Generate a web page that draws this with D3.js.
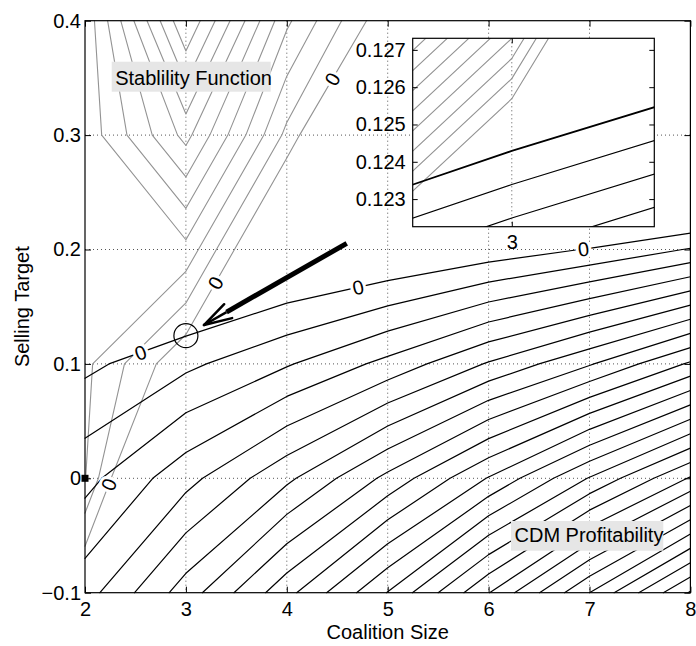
<!DOCTYPE html>
<html>
<head>
<meta charset="utf-8">
<script src="https://cdn.jsdelivr.net/npm/d3@7"></script>
<style>
  body { margin: 0; background: #fff; }
  svg text { font-family: "Liberation Sans", Arial, Helvetica, sans-serif; fill: #000; }
</style>
</head>
<body>
<svg id="chart" width="696" height="646"></svg>
<script>
// Sampling grid: coalition sizes (columns) and selling targets (rows)
const coalitionSizes = [2, 3, 4, 5, 6, 7, 8];
const sellingTargets = [-0.1, 0, 0.1, 0.2, 0.3, 0.4];

// CDM profitability on the grid, one row per selling target (bottom to top)
const profitRows = [
  [3.57, 6.48, 9.67, 13.04, 16.96, 21.0, 25.1],
  [1.67, 3.65, 5.77, 8.27, 11.07, 14.07, 17.1],
  [-0.24, 0.77, 1.9, 3.3, 5.1, 6.9, 9.15],
  [-2.1, -2.4, -1.68, -1.23, -0.63, 0.07, 1.08],
  [-4.0, -5.5, -5.2, -5.6, -6.2, -6.7, -6.5],
  [-6.0, -8.6, -8.7, -10.0, -11.8, -13.5, -14.1]
];

// Stability function on the same grid
const stabilityRows = [
  [-1.4, -9, -14, -18, -22, -26, -30],
  [2.05, -5.85, -10, -14, -18, -22, -26],
  [2.24, -0.93, -6, -10, -14, -18, -22],
  [2.3, 2.69, -2.9, -7, -11, -15, -19],
  [2.34, 6.33, 0.725, -5, -9, -13, -17],
  [2.28, 9.96, 3.2, -0.85, -5, -9, -13]
];

// Contour levels
const profitLevels = [0, 1, 2, 3, 4, 5, 6, 7, 8, 9, 10, 11, 12, 13, 14, 15, 16, 17, 18, 19, 20, 21, 22, 23, 24, 25];
const stabilityLevels = [0, 1, 2, 3, 4, 5, 6, 7, 8, 9];
const insetProfitLevels = [0, 0.0285, 0.057, 0.0855, 0.114];
const insetStabilityLevels = [0, 0.0195, 0.039, 0.0585, 0.078, 0.0975, 0.117, 0.1365, 0.156, 0.1755, 0.195];

// Ticks
const xTicks = [2, 3, 4, 5, 6, 7, 8];
const yTicks = [-0.1, 0, 0.1, 0.2, 0.3, 0.4];
const insetXTicks = [3];
const insetYTicks = [0.123, 0.124, 0.125, 0.126, 0.127];

// Where the "0" contour labels sit (approximate, snapped onto the contour)
const profitZeroLabels = [[2.55, 0.11], [4.71, 0.166], [6.94, 0.2]];
const stabilityZeroLabels = [[2.28, -0.007], [3.29, 0.171], [4.45, 0.349]];

// Annotations
const arrowStart = [4.594, 0.2054];
const arrowTip = [3.179, 0.134];
const circleCenter = [3, 0.1247];
const squareMarker = [2, 0];
const insetXDomain = [2.9717, 3.0407];
const insetYDomain = [0.12226, 0.12731];

const svg = d3.select('#chart');
const plot = { left: 85, right: 690.4, top: 20.7, bottom: 592.7 };
const x = d3.scaleLinear().domain([2, 8]).range([plot.left, plot.right]);
const y = d3.scaleLinear().domain([-0.1, 0.4]).range([plot.bottom, plot.top]);

// Marching squares returning straight line segments for one level
function isoSegments(rows, level) {
  const xs = coalitionSizes, ys = sellingTargets, segs = [];
  for (let j = 0; j < ys.length - 1; j++) {
    for (let i = 0; i < xs.length - 1; i++) {
      const z = [rows[j][i], rows[j][i + 1], rows[j + 1][i + 1], rows[j + 1][i]];
      const p = [[xs[i], ys[j]], [xs[i + 1], ys[j]], [xs[i + 1], ys[j + 1]], [xs[i], ys[j + 1]]];
      const pts = [];
      for (let e = 0; e < 4; e++) {
        const a = z[e] - level, b = z[(e + 1) % 4] - level;
        if ((a < 0) !== (b < 0)) {
          const t = a / (a - b);
          const q0 = p[e], q1 = p[(e + 1) % 4];
          pts.push({ x: q0[0] + t * (q1[0] - q0[0]), y: q0[1] + t * (q1[1] - q0[1]) });
        } else pts.push(null);
      }
      const hit = pts.filter(d => d);
      if (hit.length === 2) segs.push(hit);
      else if (hit.length === 4) {
        const c = (z[0] + z[1] + z[2] + z[3]) / 4 - level;
        if ((c < 0) === (z[0] - level < 0)) { segs.push([pts[0], pts[1]]); segs.push([pts[2], pts[3]]); }
        else { segs.push([pts[3], pts[0]]); segs.push([pts[1], pts[2]]); }
      }
    }
  }
  return segs;
}

function segPath(segs, sx, sy) {
  return segs.map(s => `M${sx(s[0].x)},${sy(s[0].y)}L${sx(s[1].x)},${sy(s[1].y)}`).join('');
}

function snapLabel(segs, anchor, sx, sy) {
  const ax = sx(anchor[0]), ay = sy(anchor[1]);
  let best = null;
  segs.forEach(s => {
    const x1 = sx(s[0].x), y1 = sy(s[0].y), x2 = sx(s[1].x), y2 = sy(s[1].y);
    const dx = x2 - x1, dy = y2 - y1, L2 = dx * dx + dy * dy;
    let t = L2 ? ((ax - x1) * dx + (ay - y1) * dy) / L2 : 0;
    t = Math.max(0, Math.min(1, t));
    const px = x1 + t * dx, py = y1 + t * dy;
    const d = (px - ax) ** 2 + (py - ay) ** 2;
    if (!best || d < best.d) best = { d, px, py, ang: Math.atan2(dy, dx) * 180 / Math.PI };
  });
  let a = best.ang;
  if (a > 90) a -= 180;
  if (a < -90) a += 180;
  return { px: best.px, py: best.py, ang: a };
}

// Grid lines
const grid = svg.append('g').attr('stroke', '#555').attr('stroke-width', 1).attr('stroke-dasharray', '1,3');
xTicks.slice(1, -1).forEach(v => grid.append('line').attr('x1', x(v)).attr('x2', x(v)).attr('y1', plot.top).attr('y2', plot.bottom));
yTicks.slice(1, -1).forEach(v => grid.append('line').attr('y1', y(v)).attr('y2', y(v)).attr('x1', plot.left).attr('x2', plot.right));

// Contours
const contourLayer = svg.append('g').attr('fill', 'none').attr('stroke-linecap', 'round');
stabilityLevels.forEach(lv => {
  contourLayer.append('path').attr('d', segPath(isoSegments(stabilityRows, lv), x, y))
    .attr('stroke', '#939393').attr('stroke-width', 1.1);
});
profitLevels.forEach(lv => {
  contourLayer.append('path').attr('d', segPath(isoSegments(profitRows, lv), x, y))
    .attr('stroke', '#000').attr('stroke-width', 1.2);
});

// "0" labels along the zero contours
function drawZeroLabels(rows, anchors) {
  const segs = isoSegments(rows, 0);
  anchors.forEach(a => {
    const s = snapLabel(segs, a, x, y);
    svg.append('text').text('0')
      .attr('transform', `translate(${s.px},${s.py}) rotate(${s.ang})`)
      .attr('text-anchor', 'middle').attr('dy', '0.36em')
      .style('font-size', '20px')
      .attr('stroke', '#fff').attr('stroke-width', 6).attr('paint-order', 'stroke');
  });
}
drawZeroLabels(profitRows, profitZeroLabels);
drawZeroLabels(stabilityRows, stabilityZeroLabels);

// Region labels with light backgrounds
function boxLabel(txt, left, top, w, h, base) {
  svg.append('rect').attr('x', left).attr('y', top).attr('width', w).attr('height', h).attr('fill', '#e6e6e6');
  svg.append('text').text(txt).attr('x', left + 3.5).attr('y', base).style('font-size', '20px');
}
boxLabel('Stablility Function', 111.7, 61.7, 159, 30, 84.5);
boxLabel('CDM Profitability', 511, 521, 152.3, 29.7, 542);

// Arrow pointing to the intersection
{
  const sx = x(arrowStart[0]), sy = y(arrowStart[1]);
  const tx = x(arrowTip[0]), ty = y(arrowTip[1]);
  const ang = Math.atan2(sy - ty, sx - tx);
  const ux = Math.cos(ang), uy = Math.sin(ang);
  const neckX = tx + ux * 26, neckY = ty + uy * 26;
  svg.append('line').attr('x1', sx).attr('y1', sy).attr('x2', neckX).attr('y2', neckY)
    .attr('stroke', '#000').attr('stroke-width', 5);
  svg.append('line').attr('x1', neckX).attr('y1', neckY).attr('x2', tx).attr('y2', ty)
    .attr('stroke', '#000').attr('stroke-width', 2.5);
  const head = 29, spread = 16 * Math.PI / 180;
  [ang - spread, ang + spread].forEach(b => {
    svg.append('line').attr('x1', tx).attr('y1', ty)
      .attr('x2', tx + Math.cos(b) * head).attr('y2', ty + Math.sin(b) * head)
      .attr('stroke', '#000').attr('stroke-width', 2.5).attr('stroke-linecap', 'round');
  });
}

// Circle marking the intersection of the zero contours
svg.append('circle').attr('cx', x(circleCenter[0])).attr('cy', y(circleCenter[1])).attr('r', 12)
  .attr('fill', 'none').attr('stroke', '#000').attr('stroke-width', 1.2);

// Axes
function styleAxis(g) {
  g.attr('font-size', null).attr('font-family', null);
  g.select('.domain').remove();
  g.selectAll('.tick line').attr('stroke', '#000');
  g.selectAll('.tick text').attr('fill', '#000').style('font-size', '20px');
}
const yFmt = d => d === 0 ? '0' : d3.format('.1f')(d);
svg.append('g').attr('transform', `translate(0,${plot.bottom})`)
  .call(d3.axisBottom(x).tickValues(xTicks).tickFormat(d3.format('d')).tickSizeInner(-6).tickSizeOuter(0).tickPadding(9))
  .call(styleAxis);
svg.append('g').attr('transform', `translate(0,${plot.top})`)
  .call(d3.axisTop(x).tickValues(xTicks).tickFormat('').tickSizeInner(-6).tickSizeOuter(0))
  .call(styleAxis);
svg.append('g').attr('transform', `translate(${plot.left},0)`)
  .call(d3.axisLeft(y).tickValues(yTicks).tickFormat(yFmt).tickSizeInner(-6).tickSizeOuter(0).tickPadding(4))
  .call(styleAxis);
svg.append('g').attr('transform', `translate(${plot.right},0)`)
  .call(d3.axisRight(y).tickValues(yTicks).tickFormat('').tickSizeInner(-6).tickSizeOuter(0))
  .call(styleAxis);
svg.append('rect').attr('x', plot.left).attr('y', plot.top)
  .attr('width', plot.right - plot.left).attr('height', plot.bottom - plot.top)
  .attr('fill', 'none').attr('stroke', '#000').attr('stroke-width', 1.2);

// Square marker on the axis
svg.append('rect').attr('x', x(squareMarker[0]) - 3.5).attr('y', y(squareMarker[1]) - 3.5)
  .attr('width', 7).attr('height', 7).attr('fill', '#000');

// Axis titles
svg.append('text').text('Coalition Size').attr('x', (plot.left + plot.right) / 2).attr('y', 639)
  .attr('text-anchor', 'middle').style('font-size', '20px');
svg.append('text').text('Selling Target')
  .attr('transform', `translate(29,${(plot.top + plot.bottom) / 2}) rotate(-90)`)
  .attr('text-anchor', 'middle').style('font-size', '20px');

// Inset: close-up around the circled intersection
const inset = { left: 412.7, right: 654.3, top: 38.3, bottom: 226.7 };
const ix = d3.scaleLinear().domain(insetXDomain).range([inset.left, inset.right]);
const iy = d3.scaleLinear().domain(insetYDomain).range([inset.bottom, inset.top]);
svg.append('defs').append('clipPath').attr('id', 'insetClip').append('rect')
  .attr('x', inset.left).attr('y', inset.top)
  .attr('width', inset.right - inset.left).attr('height', inset.bottom - inset.top);
svg.append('rect').attr('x', inset.left).attr('y', inset.top)
  .attr('width', inset.right - inset.left).attr('height', inset.bottom - inset.top).attr('fill', '#fff');
const insetG = svg.append('g').attr('clip-path', 'url(#insetClip)');
insetXTicks.forEach(v => insetG.append('line').attr('x1', ix(v)).attr('x2', ix(v))
  .attr('y1', inset.top).attr('y2', inset.bottom)
  .attr('stroke', '#555').attr('stroke-dasharray', '1,3'));
const insetLines = insetG.append('g').attr('fill', 'none').attr('stroke-linecap', 'round');
insetStabilityLevels.forEach(lv => {
  insetLines.append('path').attr('d', segPath(isoSegments(stabilityRows, lv), ix, iy))
    .attr('stroke', '#939393').attr('stroke-width', 1.1);
});
insetProfitLevels.forEach(lv => {
  insetLines.append('path').attr('d', segPath(isoSegments(profitRows, lv), ix, iy))
    .attr('stroke', '#000').attr('stroke-width', lv === 0 ? 1.8 : 1.2);
});
svg.append('g').attr('transform', `translate(0,${inset.bottom})`)
  .call(d3.axisBottom(ix).tickValues(insetXTicks).tickFormat(d3.format('d')).tickSizeInner(-5).tickSizeOuter(0).tickPadding(8))
  .call(styleAxis);
svg.append('g').attr('transform', `translate(0,${inset.top})`)
  .call(d3.axisTop(ix).tickValues(insetXTicks).tickFormat('').tickSizeInner(-5).tickSizeOuter(0))
  .call(styleAxis);
svg.append('g').attr('transform', `translate(${inset.left},0)`)
  .call(d3.axisLeft(iy).tickValues(insetYTicks).tickFormat(d3.format('.3f')).tickSizeInner(-5).tickSizeOuter(0).tickPadding(7))
  .call(styleAxis);
svg.append('g').attr('transform', `translate(${inset.right},0)`)
  .call(d3.axisRight(iy).tickValues(insetYTicks).tickFormat('').tickSizeInner(-5).tickSizeOuter(0))
  .call(styleAxis);
svg.append('rect').attr('x', inset.left).attr('y', inset.top)
  .attr('width', inset.right - inset.left).attr('height', inset.bottom - inset.top)
  .attr('fill', 'none').attr('stroke', '#000').attr('stroke-width', 1.2);
</script>
</body>
</html>
